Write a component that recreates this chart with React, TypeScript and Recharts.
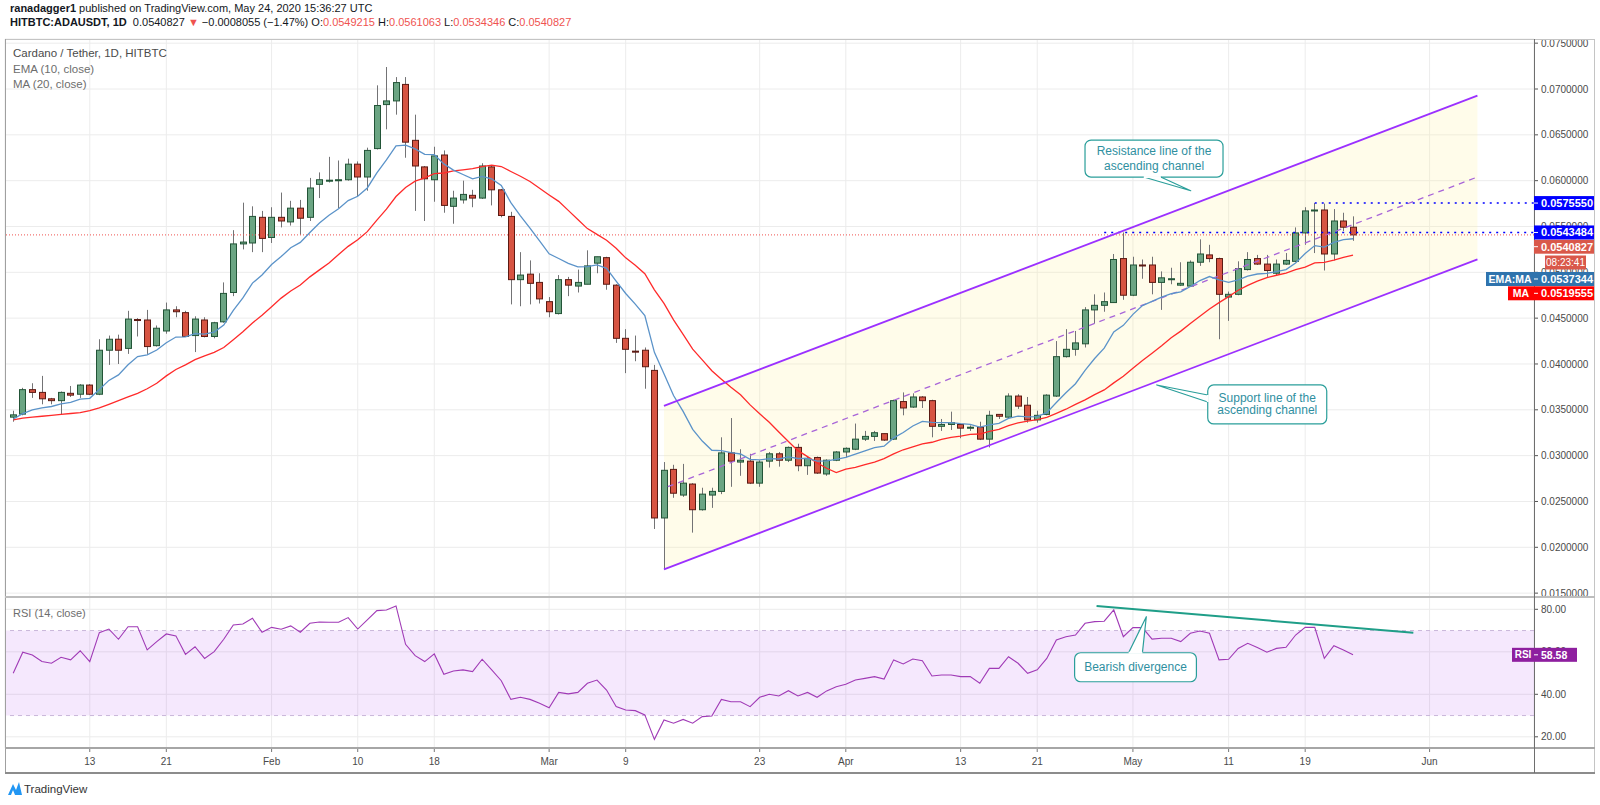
import React from "react";
import {
  ComposedChart,
  Bar,
  Line,
  Area,
  XAxis,
  YAxis,
  CartesianGrid,
  ReferenceLine,
  ReferenceArea,
  ReferenceDot,
} from "recharts";

const UI_FONT = '"Liberation Sans", Arial, "DejaVu Sans", sans-serif';

// ---- daily candles, Jan 5 2020 (index 0) .. May 24 2020 (index 140)
const opens = [
  0.0342, 0.03453, 0.0372, 0.0369, 0.0362, 0.036, 0.0368, 0.0367, 0.0377, 0.0367,
  0.0415, 0.0427, 0.0417, 0.04485, 0.0448, 0.042, 0.0436, 0.0459, 0.0456, 0.0431,
  0.0448, 0.043, 0.0446, 0.0478, 0.0531, 0.0532, 0.056, 0.0538, 0.056, 0.0555,
  0.057, 0.056, 0.0596, 0.06, 0.06, 0.0601, 0.0618, 0.0604, 0.0635, 0.0683,
  0.0687, 0.0705, 0.0644, 0.0615, 0.0601, 0.0628, 0.0572, 0.0579, 0.0584, 0.0581,
  0.0615, 0.059, 0.0561, 0.0492, 0.0498, 0.0489, 0.0468, 0.0455, 0.0492, 0.0485,
  0.0487, 0.051, 0.0516, 0.0486, 0.0428, 0.0414, 0.0415, 0.0393, 0.0232, 0.0285,
  0.0257, 0.0269, 0.0241, 0.0257, 0.0261, 0.0303, 0.0293, 0.0294, 0.027, 0.0294,
  0.0302, 0.0295, 0.0309, 0.0289, 0.0298, 0.028, 0.0295, 0.0304, 0.0307, 0.0318,
  0.0321, 0.0324, 0.0318, 0.0359, 0.0353, 0.0364, 0.036, 0.0332, 0.0334, 0.0334,
  0.033, 0.0331, 0.0318, 0.0345, 0.0342, 0.0365, 0.0355, 0.0339, 0.0345, 0.0365,
  0.0408, 0.0416, 0.0422, 0.0459, 0.0464, 0.0467, 0.0515, 0.0475, 0.0508, 0.0508,
  0.0489, 0.0493, 0.0486, 0.0485, 0.0511, 0.0519, 0.0515, 0.0473, 0.0476, 0.0503,
  0.0515, 0.0509, 0.0499, 0.0509, 0.0512, 0.0543, 0.0567, 0.0568, 0.052, 0.0556,
  0.0549215,
];
const highs = [
  0.0349, 0.0374, 0.0379, 0.0387, 0.0363, 0.037, 0.0376, 0.0378, 0.0378, 0.0427,
  0.0431, 0.0432, 0.0458, 0.045, 0.0459, 0.0442, 0.0467, 0.0463, 0.0458, 0.0452,
  0.0451, 0.0446, 0.0489, 0.0546, 0.0576, 0.0572, 0.0567, 0.0571, 0.0587, 0.0578,
  0.0579, 0.0603, 0.0609, 0.0626, 0.0622, 0.0624, 0.0621, 0.0636, 0.0704, 0.0724,
  0.0713, 0.0713, 0.0672, 0.0616, 0.0637, 0.0633, 0.0589, 0.06, 0.059, 0.0619,
  0.0617, 0.0591, 0.0566, 0.0522, 0.0513, 0.0499, 0.0473, 0.0497, 0.0495, 0.0503,
  0.0524, 0.0517, 0.0517, 0.0487, 0.0438, 0.0431, 0.0418, 0.0399, 0.0293, 0.029,
  0.0291, 0.027, 0.0265, 0.0265, 0.032, 0.0341, 0.0307, 0.0302, 0.0295, 0.0304,
  0.0304, 0.031, 0.0313, 0.0299, 0.0299, 0.0296, 0.0305, 0.0309, 0.0335, 0.0327,
  0.0327, 0.0324, 0.0361, 0.0369, 0.0368, 0.0365, 0.0361, 0.034, 0.0348, 0.0334,
  0.0333, 0.0337, 0.0349, 0.0345, 0.0368, 0.0367, 0.0364, 0.0349, 0.0367, 0.0425,
  0.0438, 0.0436, 0.0462, 0.0476, 0.0478, 0.052, 0.0543484, 0.0517, 0.0514, 0.0517,
  0.0501, 0.0505, 0.0511, 0.0513, 0.0536, 0.053, 0.0516, 0.0479, 0.0512, 0.0522,
  0.0519, 0.0519, 0.0514, 0.0521, 0.0549, 0.0571, 0.057555, 0.0575, 0.0569, 0.0565,
  0.0561063,
];
const lows = [
  0.0337, 0.0344, 0.0363, 0.0356, 0.0356, 0.0345, 0.0364, 0.0363, 0.0366, 0.0366,
  0.0399, 0.04, 0.0411, 0.043, 0.0411, 0.0419, 0.0433, 0.0451, 0.043, 0.0413,
  0.0429, 0.0428, 0.0445, 0.0474, 0.0525, 0.0522, 0.0522, 0.0532, 0.0549, 0.0551,
  0.0541, 0.0556, 0.0581, 0.0598, 0.057, 0.06, 0.0583, 0.0589, 0.0634, 0.0656,
  0.0672, 0.0625, 0.0567, 0.0556, 0.0577, 0.0565, 0.0553, 0.0575, 0.0571, 0.058,
  0.0573, 0.056, 0.0465, 0.0463, 0.0465, 0.0466, 0.0451, 0.0454, 0.0474, 0.0478,
  0.0487, 0.0499, 0.0481, 0.0423, 0.039, 0.0403, 0.0373, 0.022, 0.0176, 0.0254,
  0.0255, 0.0216, 0.024, 0.0243, 0.0258, 0.0266, 0.0278, 0.0269, 0.0266, 0.0287,
  0.0288, 0.0293, 0.0283, 0.0279, 0.028, 0.0278, 0.0294, 0.0298, 0.0306, 0.0316,
  0.0316, 0.0316, 0.0317, 0.0344, 0.0352, 0.0352, 0.032, 0.0327, 0.0328, 0.0319,
  0.0327, 0.0317, 0.0309, 0.034, 0.0341, 0.0351, 0.0336, 0.0336, 0.0344, 0.0364,
  0.0407, 0.0409, 0.0418, 0.0444, 0.0457, 0.0467, 0.047, 0.0474, 0.0493, 0.0476,
  0.0459, 0.0487, 0.0485, 0.0484, 0.0507, 0.0511, 0.0427, 0.0447, 0.0475, 0.0502,
  0.0508, 0.0495, 0.0497, 0.0508, 0.0511, 0.053, 0.0521, 0.0502, 0.0513, 0.0545,
  0.0534346,
];
const closes = [
  0.03445, 0.0372, 0.0369, 0.0362, 0.036, 0.0369, 0.0366, 0.0377, 0.0367, 0.0415,
  0.0427, 0.0415, 0.0449, 0.0448, 0.0419, 0.0439, 0.0459, 0.0457, 0.043, 0.0449,
  0.043, 0.0445, 0.0477, 0.0531, 0.0533, 0.0561, 0.0537, 0.056, 0.0556, 0.057,
  0.0559, 0.0592, 0.0601, 0.06005, 0.0601, 0.0618, 0.0604, 0.0633, 0.0682, 0.0687,
  0.0707, 0.0642, 0.0616, 0.0602, 0.0627, 0.0573, 0.0581, 0.0585, 0.0581, 0.0616,
  0.059, 0.0562, 0.0492, 0.0497, 0.0488, 0.0471, 0.0457, 0.0492, 0.0486, 0.0489,
  0.0507, 0.0517, 0.0487, 0.0428, 0.0416, 0.0413, 0.0397, 0.0232, 0.0284, 0.0259,
  0.027, 0.0241, 0.0258, 0.0261, 0.0303, 0.0294, 0.0295, 0.027, 0.0293, 0.0302,
  0.0295, 0.0309, 0.0289, 0.0297, 0.0281, 0.0295, 0.0304, 0.0308, 0.0318, 0.0321,
  0.0325, 0.0317, 0.036, 0.0352, 0.0364, 0.036, 0.0332, 0.0334, 0.0336, 0.033,
  0.0331, 0.0318, 0.0344, 0.0343, 0.0365, 0.0354, 0.0339, 0.0344, 0.0366, 0.0408,
  0.0416, 0.0423, 0.0459, 0.0464, 0.0468, 0.0514, 0.0475, 0.0508, 0.0507, 0.0489,
  0.0494, 0.0493, 0.0488, 0.0511, 0.052, 0.0515, 0.0476, 0.0476, 0.0504, 0.0514,
  0.0509, 0.0502, 0.0509, 0.0513, 0.0543, 0.0567, 0.0568, 0.052, 0.0556, 0.0549215,
  0.0540827,
];

// ---- RSI (14, close)
const rsiValues = [
  49.9, 59.8, 58.5, 55.4, 54.6, 57.4, 56.2, 60.5, 55.4, 69.0,
  70.7, 65.9, 71.8, 71.8, 60.9, 64.8, 68.4, 67.5, 58.8, 62.4,
  56.9, 60.1, 65.9, 72.6, 73.1, 75.8, 69.2, 71.5, 70.6, 72.2,
  69.2, 73.4, 74.0, 73.9, 73.9, 76.1, 70.7, 75.0, 79.4, 79.7,
  81.6, 63.5, 58.2, 55.4, 59.0, 49.4, 51.0, 51.5, 50.7, 56.5,
  51.5, 46.4, 37.6, 38.6, 37.6, 35.8, 33.7, 40.9, 40.2, 40.9,
  45.2, 46.7, 42.0, 34.2, 32.6, 32.3, 30.3, 18.8, 27.9, 26.4,
  28.2, 26.4, 29.5, 29.8, 37.6, 36.5, 36.5, 34.2, 38.6, 40.0,
  39.2, 41.7, 39.2, 40.9, 38.6, 41.6, 43.6, 44.7, 46.7, 47.5,
  48.3, 47.2, 56.2, 54.3, 56.6, 55.8, 48.6, 49.1, 49.1, 48.3,
  48.3, 45.2, 52.2, 52.2, 57.7, 54.6, 49.9, 51.5, 56.9, 65.6,
  67.1, 67.9, 73.4, 74.2, 74.4, 79.7, 67.1, 71.4, 71.4, 66.0,
  66.4, 66.4, 64.8, 68.7, 69.8, 68.7, 56.2, 56.5, 61.6, 64.0,
  62.0, 59.8, 61.6, 62.1, 67.9, 71.5, 71.5, 56.9, 62.9, 60.9,
  58.58,
];

// MA(20) values visible before 20 closes are available
const maLeadIn = [
  0.0339, 0.0341, 0.0342, 0.0343, 0.0344, 0.0345, 0.0346, 0.0347, 0.0349, 0.0352,
  0.0356, 0.036, 0.0364, 0.0368, 0.0373, 0.0379, 0.0387, 0.0394, 0.0399,
];
const emaStart = 0.034;

// ---- axes
const xTickIndex = [8, 16, 27, 36, 44, 56, 64, 78, 87, 99, 107, 117, 127, 135, 148];
const xTickLabels = ["13", "21", "Feb", "10", "18", "Mar", "9", "23", "Apr", "13", "21", "May", "11", "19", "Jun"];
const priceTicks = [0.015, 0.02, 0.025, 0.03, 0.035, 0.04, 0.045, 0.05, 0.055, 0.06, 0.065, 0.07, 0.075];
const rsiTicks = [20, 40, 60, 80];

// ---- drawings (date index, value)
const channelUpper = [{ x: 68, y: 0.03542 }, { x: 153, y: 0.06927 }];
const channelLower = [{ x: 68, y: 0.0176 }, { x: 153, y: 0.05142 }];
const channelMid = [{ x: 68.4, y: 0.02661 }, { x: 153, y: 0.0604 }];
const channelFill = [
  { x: 68, band: [0.0176, 0.03542] },
  { x: 153, band: [0.05142, 0.06927] },
];
const divergenceLine = [{ x: 113.2, y: 81.5 }, { x: 146.3, y: 69.0 }];
const lastPrice = 0.0540827;
const level1 = 0.057555;
const level2 = 0.0543484;
const emaLast = 0.0537344;
const maLast = 0.0519555;
const rsiLast = 58.58;

const X_MIN = -0.857;
const X_MAX = 158.91;
const P_MIN = 0.014578;
const P_MAX = 0.075455;
const R_MIN = 14.73;
const R_MAX = 85.79;

// ---- derived indicator series
const K = 2 / 11;
const emaValues: number[] = [];
closes.forEach((c, i) => {
  emaValues.push(i === 0 ? emaStart : emaValues[i - 1] + K * (c - emaValues[i - 1]));
});
const maValues = closes.map((_, i) =>
  i < 19 ? maLeadIn[i] : closes.slice(i - 19, i + 1).reduce((a, b) => a + b, 0) / 20
);

const rows = closes.map((c, i) => ({
  x: i,
  range: [lows[i], highs[i]],
  o: opens[i],
  h: highs[i],
  l: lows[i],
  c,
  ema: emaValues[i],
  ma: maValues[i],
  rsi: rsiValues[i],
}));

const UP_FILL = "#6ba583";
const UP_LINE = "#225437";
const DN_FILL = "#d75442";
const DN_LINE = "#5b1a13";
const WICK = "#737375";
const TEAL = "#2a9e9a";
const TEAL_TEXT = "#2f8f9f";
const PURPLE = "#9b30ff";

const Candle = (props: any) => {
  const { x, y, width, height, payload } = props;
  if (!payload || height === undefined) return null;
  const { o, h, l, c } = payload;
  const top = Math.min(y, y + height);
  const hh = Math.abs(height);
  const py = (v: number) => top + ((h - v) / (h - l)) * hh;
  const cx = Math.round(x + width / 2) + 0.5;
  const up = c >= o;
  const bTop = py(Math.max(o, c));
  const bBot = py(Math.min(o, c));
  const bh = Math.max(1, bBot - bTop);
  return (
    <g>
      <line x1={cx} x2={cx} y1={top} y2={top + hh} stroke={WICK} strokeWidth={1} />
      <rect
        x={cx - 3}
        y={bTop}
        width={6}
        height={bh}
        fill={up ? UP_FILL : DN_FILL}
        stroke={up ? UP_LINE : DN_LINE}
        strokeWidth={1}
      />
    </g>
  );
};

const AxisTag = (props: any) => {
  const { viewBox, text, fill, dy = 0, prefix, h = 14, fontSize = 11, extra } = props;
  if (!viewBox) return null;
  const ax = viewBox.x + viewBox.width;
  const cy = viewBox.y + dy;
  return (
    <g>
      {prefix ? (
        <g>
          <rect x={ax - prefix.w} y={cy - h / 2} width={prefix.w} height={h} fill={fill} />
          <text x={ax - prefix.w / 2} y={cy} textAnchor="middle" dominantBaseline="central" fill="#fff" fontWeight="bold" fontSize={fontSize - 0.5} fontFamily={UI_FONT}>
            {prefix.text}
          </text>
        </g>
      ) : null}
      <rect x={ax} y={cy - h / 2} width={props.w || 60} height={h} fill={fill} />
      <line x1={ax} x2={ax + 4} y1={cy} y2={cy} stroke="#fff" strokeWidth={1} />
      <text x={ax + 7} y={cy} dominantBaseline="central" fill="#fff" fontWeight="bold" fontSize={fontSize} fontFamily={UI_FONT}>
        {text}
      </text>
      {extra ? (
        <g>
          <rect x={ax + 11} y={cy + extra.dy - 7} width={41} height={14} fill={fill} />
          <text x={ax + 31.5} y={cy + extra.dy} textAnchor="middle" dominantBaseline="central" fill="#fff" fontSize={10} fontFamily={UI_FONT}>
            {extra.text}
          </text>
        </g>
      ) : null}
    </g>
  );
};

const CalloutBox = ({ x, y, w, h, tail, tip, lines, tx, ty, lh }: any) => (
  <g>
    <rect x={x} y={y} width={w} height={h} rx={6} ry={6} fill="#fff" stroke={TEAL} strokeWidth={1.2} />
    <path d={`M${tail[0][0]},${tail[0][1]} L${tip[0]},${tip[1]} L${tail[1][0]},${tail[1][1]}`} fill="#fff" stroke={TEAL} strokeWidth={1.2} strokeLinejoin="round" />
    <line x1={tail[0][0]} y1={tail[0][1]} x2={tail[1][0]} y2={tail[1][1]} stroke="#fff" strokeWidth={2} />
    {lines.map((t: string, i: number) => (
      <text key={i} x={tx} y={ty + i * lh} textAnchor="middle" dominantBaseline="central" fill={TEAL_TEXT} fontSize={12} fontFamily={UI_FONT}>
        {t}
      </text>
    ))}
  </g>
);

const ResistanceCallout = (p: any) => {
  const { cx, cy } = p;
  if (cx === undefined) return null;
  const bx = cx - 105.7, by = cy - 50.7, bw = 138, bh = 37;
  return (
    <CalloutBox
      x={bx} y={by} w={bw} h={bh}
      tip={[cx, cy]}
      tail={[[cx - 47, by + bh], [cx - 30, by + bh]]}
      lines={["Resistance line of the", "ascending channel"]}
      tx={bx + bw / 2} ty={by + 11} lh={15}
    />
  );
};

const SupportCallout = (p: any) => {
  const { cx, cy } = p;
  if (cx === undefined) return null;
  const bx = cx + 51, by = cy, bw = 119, bh = 39;
  return (
    <CalloutBox
      x={bx} y={by} w={bw} h={bh}
      tip={[cx, cy]}
      tail={[[bx, by + 10], [bx, by + 17]]}
      lines={["Support line of the", "ascending channel"]}
      tx={bx + bw / 2} ty={by + 13.5} lh={12}
    />
  );
};

const BearishCallout = (p: any) => {
  const { cx, cy } = p;
  if (cx === undefined) return null;
  const bx = cx - 71.7, by = cy + 36, bw = 121.8, bh = 29;
  return (
    <CalloutBox
      x={bx} y={by} w={bw} h={bh}
      tip={[cx, cy]}
      tail={[[cx - 17.7, by], [cx - 3.9, by]]}
      lines={["Bearish divergence"]}
      tx={bx + bw / 2} ty={by + bh / 2} lh={0}
    />
  );
};

const tickStyle = { fontSize: 10, fill: "#4a4a4a", fontFamily: UI_FONT };
const PRICE_MARGIN = { top: 39, right: 6, bottom: 0, left: 5 };
const RSI_MARGIN = { top: 0, right: 6, bottom: 0, left: 5 };

export default function App() {
  return (
    <div style={{ position: "relative", width: 1600, height: 805, background: "#fff", overflow: "hidden", fontFamily: UI_FONT }}>
      <style>{`body{margin:0;background:#fff;}`}</style>

      {/* price pane */}
      <div style={{ position: "absolute", left: 0, top: 0 }}>
        <ComposedChart width={1600} height={597} data={rows} margin={PRICE_MARGIN}>
          <CartesianGrid stroke="#ececec" />
          <XAxis type="number" dataKey="x" domain={[X_MIN, X_MAX]} ticks={xTickIndex} hide allowDataOverflow />
          <YAxis
            orientation="right"
            domain={[P_MIN, P_MAX]}
            ticks={priceTicks}
            allowDataOverflow
            width={60}
            interval={0}
            axisLine={false}
            tickSize={4}
            tickMargin={3}
            tickLine={{ stroke: "#555" }}
            tick={tickStyle}
            tickFormatter={(v: number) => v.toFixed(7)}
          />
          <Area
            data={channelFill}
            dataKey="band"
            type="linear"
            stroke="none"
            fill="#fff3a0"
            fillOpacity={0.22}
            isAnimationActive={false}
            activeDot={false}
            dot={false}
          />
          <ReferenceLine segment={channelMid} stroke="#a865d8" strokeWidth={1.3} strokeDasharray="6 5" />
          <ReferenceLine y={lastPrice} stroke="#ef5350" strokeWidth={1} strokeDasharray="1 2" />
          <ReferenceLine segment={[{ x: 114, y: level2 }, { x: X_MAX, y: level2 }]} stroke="#0000ff" strokeWidth={1.5} strokeDasharray="2 5" />
          <ReferenceLine segment={[{ x: 136, y: level1 }, { x: X_MAX, y: level1 }]} stroke="#0000ff" strokeWidth={1.5} strokeDasharray="2 5" />
          <Line dataKey="ma" stroke="#ff2a2a" strokeWidth={1.3} dot={false} activeDot={false} isAnimationActive={false} />
          <Line dataKey="ema" stroke="#5b93c9" strokeWidth={1.3} dot={false} activeDot={false} isAnimationActive={false} />
          <Bar dataKey="range" barSize={7} isAnimationActive={false} shape={(p: any) => <Candle {...p} />} />
          <ReferenceLine segment={channelUpper} stroke={PURPLE} strokeWidth={1.8} />
          <ReferenceLine segment={channelLower} stroke={PURPLE} strokeWidth={1.8} />
          <ReferenceDot x={123.04} y={0.0589} r={0} shape={(p: any) => <ResistanceCallout {...p} />} />
          <ReferenceDot x={119.49} y={0.03771} r={0} shape={(p: any) => <SupportCallout {...p} />} />
        </ComposedChart>
      </div>

      {/* RSI pane + time axis */}
      <div style={{ position: "absolute", left: 0, top: 597 }}>
        <ComposedChart width={1600} height={176} data={rows} margin={RSI_MARGIN}>
          <CartesianGrid stroke="#ececec" />
          <XAxis
            type="number"
            dataKey="x"
            domain={[X_MIN, X_MAX]}
            ticks={xTickIndex}
            allowDataOverflow
            interval={0}
            height={25}
            axisLine={false}
            tickSize={4}
            tickMargin={6}
            tickLine={{ stroke: "#777" }}
            tick={{ fontSize: 10, fill: "#4a4a4a", fontFamily: UI_FONT }}
            tickFormatter={(v: number) => xTickLabels[xTickIndex.indexOf(v)] ?? ""}
          />
          <YAxis
            orientation="right"
            domain={[R_MIN, R_MAX]}
            ticks={rsiTicks}
            allowDataOverflow
            width={60}
            interval={0}
            axisLine={false}
            tickSize={4}
            tickMargin={3}
            tickLine={{ stroke: "#555" }}
            tick={tickStyle}
            tickFormatter={(v: number) => v.toFixed(2)}
          />
          <ReferenceArea y1={30} y2={70} fill="#a020f0" fillOpacity={0.1} stroke="none" />
          <ReferenceLine y={70} stroke="#c9b6da" strokeDasharray="4 4" />
          <ReferenceLine y={30} stroke="#c9b6da" strokeDasharray="4 4" />
          <Line dataKey="rsi" stroke="#a03ab6" strokeWidth={1.1} dot={false} activeDot={false} isAnimationActive={false} />
          <ReferenceLine segment={divergenceLine} stroke="#1f9e88" strokeWidth={2} />
          <ReferenceDot x={118.4} y={76.5} r={0} shape={(p: any) => <BearishCallout {...p} />} />
        </ComposedChart>
      </div>

      {/* frame and separators */}
      <svg width={1600} height={805} style={{ position: "absolute", left: 0, top: 0, pointerEvents: "none" }}>
        <line x1={5} x2={1594} y1={39.5} y2={39.5} stroke="#c4c4c4" strokeWidth={1} />
        <line x1={5.5} x2={5.5} y1={39} y2={773} stroke="#a0a0a0" strokeWidth={1} />
        <line x1={1594.5} x2={1594.5} y1={39} y2={773} stroke="#c4c4c4" strokeWidth={1} />
        <line x1={5} x2={1595} y1={597} y2={597} stroke="#bdbdbd" strokeWidth={2} />
        <line x1={5} x2={1595} y1={748} y2={748} stroke="#a6a6a6" strokeWidth={2} />
        <line x1={5} x2={1595} y1={773} y2={773} stroke="#8c8c8c" strokeWidth={2} />
        <line x1={1534.5} x2={1534.5} y1={39} y2={773} stroke="#6e6e6e" strokeWidth={1} />
        {/* TradingView logo */}
        <g transform="translate(8,781)">
          <path d="M0,14 L5,3 L8,9 L11,1 L14,14 Z" fill="#2196f3" />
          <path d="M3,14 L5,9 L7,14 Z" fill="#fff" />
        </g>
        <text x={24} y={789} dominantBaseline="central" fontSize={11.5} fill="#333" fontFamily={UI_FONT}>
          TradingView
        </text>
      </svg>

      {/* price-axis tags (overlay, same scales as the price pane) */}
      <div style={{ position: "absolute", left: 0, top: 0, pointerEvents: "none" }}>
        <ComposedChart width={1600} height={597} data={rows} margin={PRICE_MARGIN}>
          <XAxis type="number" dataKey="x" domain={[X_MIN, X_MAX]} hide allowDataOverflow />
          <YAxis orientation="right" domain={[P_MIN, P_MAX]} allowDataOverflow width={60} tick={false} tickLine={false} axisLine={false} />
          <Line dataKey="c" stroke="none" dot={false} activeDot={false} isAnimationActive={false} />
          <ReferenceLine y={maLast} stroke="none" label={(p: any) => <AxisTag {...p} text={maLast.toFixed(7)} fill="#ff0000" dy={38.9} prefix={{ text: "MA", w: 26 }} />} />
          <ReferenceLine y={emaLast} stroke="none" label={(p: any) => <AxisTag {...p} text={emaLast.toFixed(7)} fill="#2f73ad" dy={40.9} prefix={{ text: "EMA:MA", w: 48 }} />} />
          <ReferenceLine y={lastPrice} stroke="none" label={(p: any) => <AxisTag {...p} text={lastPrice.toFixed(7)} fill="#d9584a" dy={11.8} extra={{ text: "08:23:41", dy: 15.8 }} />} />
          <ReferenceLine y={level2} stroke="none" label={(p: any) => <AxisTag {...p} text={level2.toFixed(7)} fill="#0000ff" />} />
          <ReferenceLine y={level1} stroke="none" label={(p: any) => <AxisTag {...p} text={level1.toFixed(7)} fill="#0000ff" />} />
        </ComposedChart>
      </div>

      {/* RSI-axis tag (overlay, same scales as the RSI pane) */}
      <div style={{ position: "absolute", left: 0, top: 597, pointerEvents: "none" }}>
        <ComposedChart width={1600} height={176} data={rows} margin={RSI_MARGIN}>
          <XAxis type="number" dataKey="x" domain={[X_MIN, X_MAX]} height={25} tick={false} tickLine={false} axisLine={false} allowDataOverflow />
          <YAxis orientation="right" domain={[R_MIN, R_MAX]} allowDataOverflow width={60} tick={false} tickLine={false} axisLine={false} />
          <Line dataKey="rsi" stroke="none" dot={false} activeDot={false} isAnimationActive={false} />
          <ReferenceLine
            y={rsiLast}
            stroke="none"
            label={(p: any) => <AxisTag {...p} text={rsiLast.toFixed(2)} fill="#8e1f9f" w={43} h={14} fontSize={10.5} prefix={{ text: "RSI", w: 22 }} />}
          />
        </ComposedChart>
      </div>

      {/* header */}
      <div style={{ position: "absolute", left: 10, top: 0, fontSize: 11, lineHeight: "16px", color: "#131722", whiteSpace: "nowrap" }}>
        <b>ranadagger1</b> published on TradingView.com, May 24, 2020 15:36:27 UTC
      </div>
      <div style={{ position: "absolute", left: 10, top: 14, fontSize: 11, lineHeight: "16px", color: "#131722", whiteSpace: "nowrap" }}>
        <b>HITBTC:ADAUSDT, 1D</b>&nbsp; 0.0540827 <span style={{ color: "#ef5350" }}>▼</span> −0.0008055 (−1.47%) O:
        <span style={{ color: "#ef5350" }}>0.0549215</span> H:<span style={{ color: "#ef5350" }}>0.0561063</span> L:
        <span style={{ color: "#ef5350" }}>0.0534346</span> C:<span style={{ color: "#ef5350" }}>0.0540827</span>
      </div>

      {/* pane legend */}
      <div style={{ position: "absolute", left: 13, top: 46, fontSize: 11.5, lineHeight: "15.5px", color: "#4b4b4b", whiteSpace: "nowrap" }}>
        <div>Cardano / Tether, 1D, HITBTC</div>
        <div style={{ color: "#6d6d6d" }}>EMA (10, close)</div>
        <div style={{ color: "#6d6d6d" }}>MA (20, close)</div>
      </div>
      <div style={{ position: "absolute", left: 13, top: 606, fontSize: 11, lineHeight: "14px", color: "#6d6d6d", whiteSpace: "nowrap" }}>
        RSI (14, close)
      </div>
    </div>
  );
}
